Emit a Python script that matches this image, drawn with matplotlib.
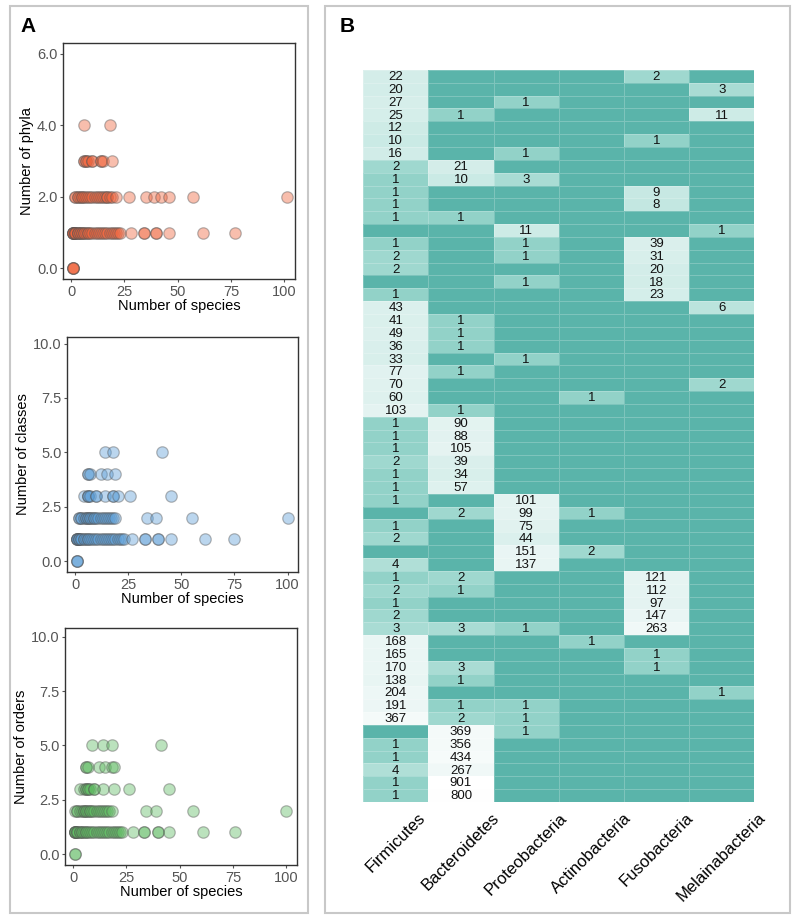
import numpy as np
import matplotlib
matplotlib.use("Agg")
import matplotlib.pyplot as plt
from matplotlib.colors import LinearSegmentedColormap, Normalize
from matplotlib.patches import Rectangle

plt.rcParams['font.family'] = ['Liberation Sans', 'DejaVu Sans']

# ---- panel A data: number of species vs number of taxa (one list per y level)
phyla_species = {
    0: [1, 1, 1, 1],
    1: [1, 1, 1, 1, 1, 1, 2, 2, 2, 2, 3, 3, 3, 4, 4, 5, 5, 6, 6, 7, 8, 8, 9, 10, 11, 12, 13,
        14, 15, 16, 17, 18, 19, 20, 21, 22, 23, 28, 34, 34, 40, 40, 46, 62, 77],
    2: [2, 2, 3, 3, 4, 5, 5, 6, 7, 8, 9, 10, 11, 12, 13, 14, 15, 16, 17, 17, 18, 19, 21,
        27, 35, 39, 42, 46, 57, 101],
    3: [6, 6, 7, 7, 8, 10, 10, 14, 14, 15, 19],
    4: [6, 18],
}
classes_species = {
    0: [1, 1, 1],
    1: [1, 1, 1, 1, 1, 2, 2, 2, 3, 3, 4, 4, 5, 6, 6, 7, 8, 9, 10, 11, 12, 13, 14, 15, 16,
        17, 18, 19, 20, 21, 22, 23, 27, 33, 33, 39, 39, 45, 61, 75],
    2: [2, 2, 3, 3, 4, 5, 5, 6, 6, 7, 7, 8, 9, 9, 10, 11, 12, 13, 14, 15, 16, 17, 18, 19,
        34, 38, 55, 100],
    3: [4, 6, 6, 6, 7, 10, 10, 14, 18, 18, 20, 26, 45],
    4: [6, 6, 7, 12, 15, 19],
    5: [14, 18, 41],
}
orders_species = {
    0: [1, 1],
    1: [1, 1, 1, 1, 1, 2, 2, 2, 3, 3, 4, 4, 5, 6, 6, 7, 8, 9, 10, 11, 12, 13, 14, 15, 16,
        17, 18, 19, 20, 21, 22, 23, 28, 33, 33, 40, 40, 45, 61, 76],
    2: [1, 2, 2, 3, 4, 5, 5, 6, 6, 7, 8, 8, 9, 10, 11, 12, 13, 14, 15, 16, 17, 18, 34, 39,
        56, 100],
    3: [3, 5, 6, 6, 7, 7, 8, 10, 10, 14, 19, 26, 45],
    4: [6, 6, 7, 12, 15, 18, 19],
    5: [9, 14, 18, 41],
}

# ---- panel B data: counts per phylum (57 rows)
phyla_names = ['Firmicutes', 'Bacteroidetes', 'Proteobacteria', 'Actinobacteria',
               'Fusobacteria', 'Melainabacteria']
firmicutes = [22, 20, 27, 25, 12, 10, 16, 2, 1, 1, 1, 1, 0, 1, 2, 2, 0, 1, 43, 41, 49, 36,
              33, 77, 70, 60, 103, 1, 1, 1, 2, 1, 1, 1, 0, 1, 2, 0, 4, 1, 2, 1, 2, 3, 168,
              165, 170, 138, 204, 191, 367, 0, 1, 1, 4, 1, 1]
bacteroidetes = [0, 0, 0, 1, 0, 0, 0, 21, 10, 0, 0, 1, 0, 0, 0, 0, 0, 0, 0, 1, 1, 1, 0, 1,
                 0, 0, 1, 90, 88, 105, 39, 34, 57, 0, 2, 0, 0, 0, 0, 2, 1, 0, 0, 3, 0, 0, 3,
                 1, 0, 1, 2, 369, 356, 434, 267, 901, 800]
proteobacteria = [0, 0, 1, 0, 0, 0, 1, 0, 3, 0, 0, 0, 11, 1, 1, 0, 1, 0, 0, 0, 0, 0, 1, 0,
                  0, 0, 0, 0, 0, 0, 0, 0, 0, 101, 99, 75, 44, 151, 137, 0, 0, 0, 0, 1, 0, 0,
                  0, 0, 0, 1, 1, 1, 0, 0, 0, 0, 0]
actinobacteria = [0, 0, 0, 0, 0, 0, 0, 0, 0, 0, 0, 0, 0, 0, 0, 0, 0, 0, 0, 0, 0, 0, 0, 0,
                  0, 1, 0, 0, 0, 0, 0, 0, 0, 0, 1, 0, 0, 2, 0, 0, 0, 0, 0, 0, 1, 0, 0, 0,
                  0, 0, 0, 0, 0, 0, 0, 0, 0]
fusobacteria = [2, 0, 0, 0, 0, 1, 0, 0, 0, 9, 8, 0, 0, 39, 31, 20, 18, 23, 0, 0, 0, 0, 0, 0,
                0, 0, 0, 0, 0, 0, 0, 0, 0, 0, 0, 0, 0, 0, 0, 121, 112, 97, 147, 263, 0, 1, 1,
                0, 0, 0, 0, 0, 0, 0, 0, 0, 0]
melainabacteria = [0, 3, 0, 11, 0, 0, 0, 0, 0, 0, 0, 0, 1, 0, 0, 0, 0, 0, 6, 0, 0, 0, 0, 0,
                   2, 0, 0, 0, 0, 0, 0, 0, 0, 0, 0, 0, 0, 0, 0, 0, 0, 0, 0, 0, 0, 0, 0, 0,
                   1, 0, 0, 0, 0, 0, 0, 0, 0]

fig = plt.figure(figsize=(8, 9.23), dpi=100)

# panel frames
fig.patches.append(Rectangle((10 / 800, 1 - 913 / 923), 298 / 800, 907 / 923,
                             transform=fig.transFigure, fill=False,
                             edgecolor='#c8c8c8', lw=1.5))
fig.patches.append(Rectangle((325 / 800, 1 - 913 / 923), 465 / 800, 907 / 923,
                             transform=fig.transFigure, fill=False,
                             edgecolor='#c8c8c8', lw=1.5))
fig.text(20 / 800, 1 - 26 / 923, 'A', fontsize=15, fontweight='bold', va='center')
fig.text(340 / 800, 1 - 26 / 923, 'B', fontsize=15, fontweight='bold', va='center')

# scatter panels
scatter_specs = [
    (phyla_species, 'Number of phyla', '#f0643c', [0.0788, 0.6977, 0.29, 0.2557],
     (-0.3, 6.3), [0, 2, 4, 6]),
    (classes_species, 'Number of classes', '#5d9fd8', [0.0838, 0.3803, 0.289, 0.2546],
     (-0.5, 10.3), [0, 2.5, 5, 7.5, 10]),
    (orders_species, 'Number of orders', '#5fbb62', [0.0813, 0.0628, 0.29, 0.2568],
     (-0.5, 10.4), [0, 2.5, 5, 7.5, 10]),
]
for data, ylab, col, rect, ylim, yt in scatter_specs:
    ax = fig.add_axes(rect)
    for level, xs in data.items():
        ax.scatter(xs, [level] * len(xs), s=68, color=col, alpha=0.42,
                   edgecolor='#555555', linewidth=0.9, zorder=3)
    ax.set_xlim(-3.8, 105)
    ax.set_ylim(*ylim)
    ax.set_xticks([0, 25, 50, 75, 100])
    ax.set_yticks(yt)
    ax.set_yticklabels(['%.1f' % v for v in yt])
    ax.tick_params(labelsize=10.5, labelcolor='#555555', length=2.5, width=0.8,
                   color='#555555', pad=1.5)
    for sp in ax.spines.values():
        sp.set_color('#333333')
        sp.set_linewidth(1.0)
    ax.set_xlabel('Number of species', fontsize=10.5, labelpad=0)
    ax.set_ylabel(ylab, fontsize=10.5, labelpad=2)

# heatmap
values = np.array([firmicutes, bacteroidetes, proteobacteria, actinobacteria,
                   fusobacteria, melainabacteria]).T
cmap = LinearSegmentedColormap.from_list('teal', [
    (0.0, (90 / 255, 180 / 255, 170 / 255)),
    (0.102, (146 / 255, 210 / 255, 200 / 255)),
    (0.365, (205 / 255, 235 / 255, 230 / 255)),
    (0.68, (228 / 255, 243 / 255, 241 / 255)),
    (1.0, (1, 1, 1)),
])
logv = np.log10(values + 1)
axh = fig.add_axes([0.454, 0.1311, 0.4888, 0.7931])
axh.pcolormesh(logv, cmap=cmap, norm=Normalize(0, np.log10(902)),
               edgecolors=(1, 1, 1, 0.22), linewidth=0.6)
axh.set_xlim(0, values.shape[1])
axh.set_ylim(values.shape[0], 0)
for i in range(values.shape[0]):
    for j in range(values.shape[1]):
        if values[i, j] > 0:
            axh.text(j + 0.5, i + 0.55, str(values[i, j]), ha='center', va='center',
                     fontsize=9.5, color='#111111')
axh.set_yticks([])
axh.set_xticks(np.arange(values.shape[1]) + 0.5)
axh.set_xticklabels(phyla_names, rotation=45, ha='center', fontsize=12)
axh.tick_params(axis='x', length=0, pad=6)
for sp in axh.spines.values():
    sp.set_visible(False)

fig.savefig('out.png', dpi=100)
